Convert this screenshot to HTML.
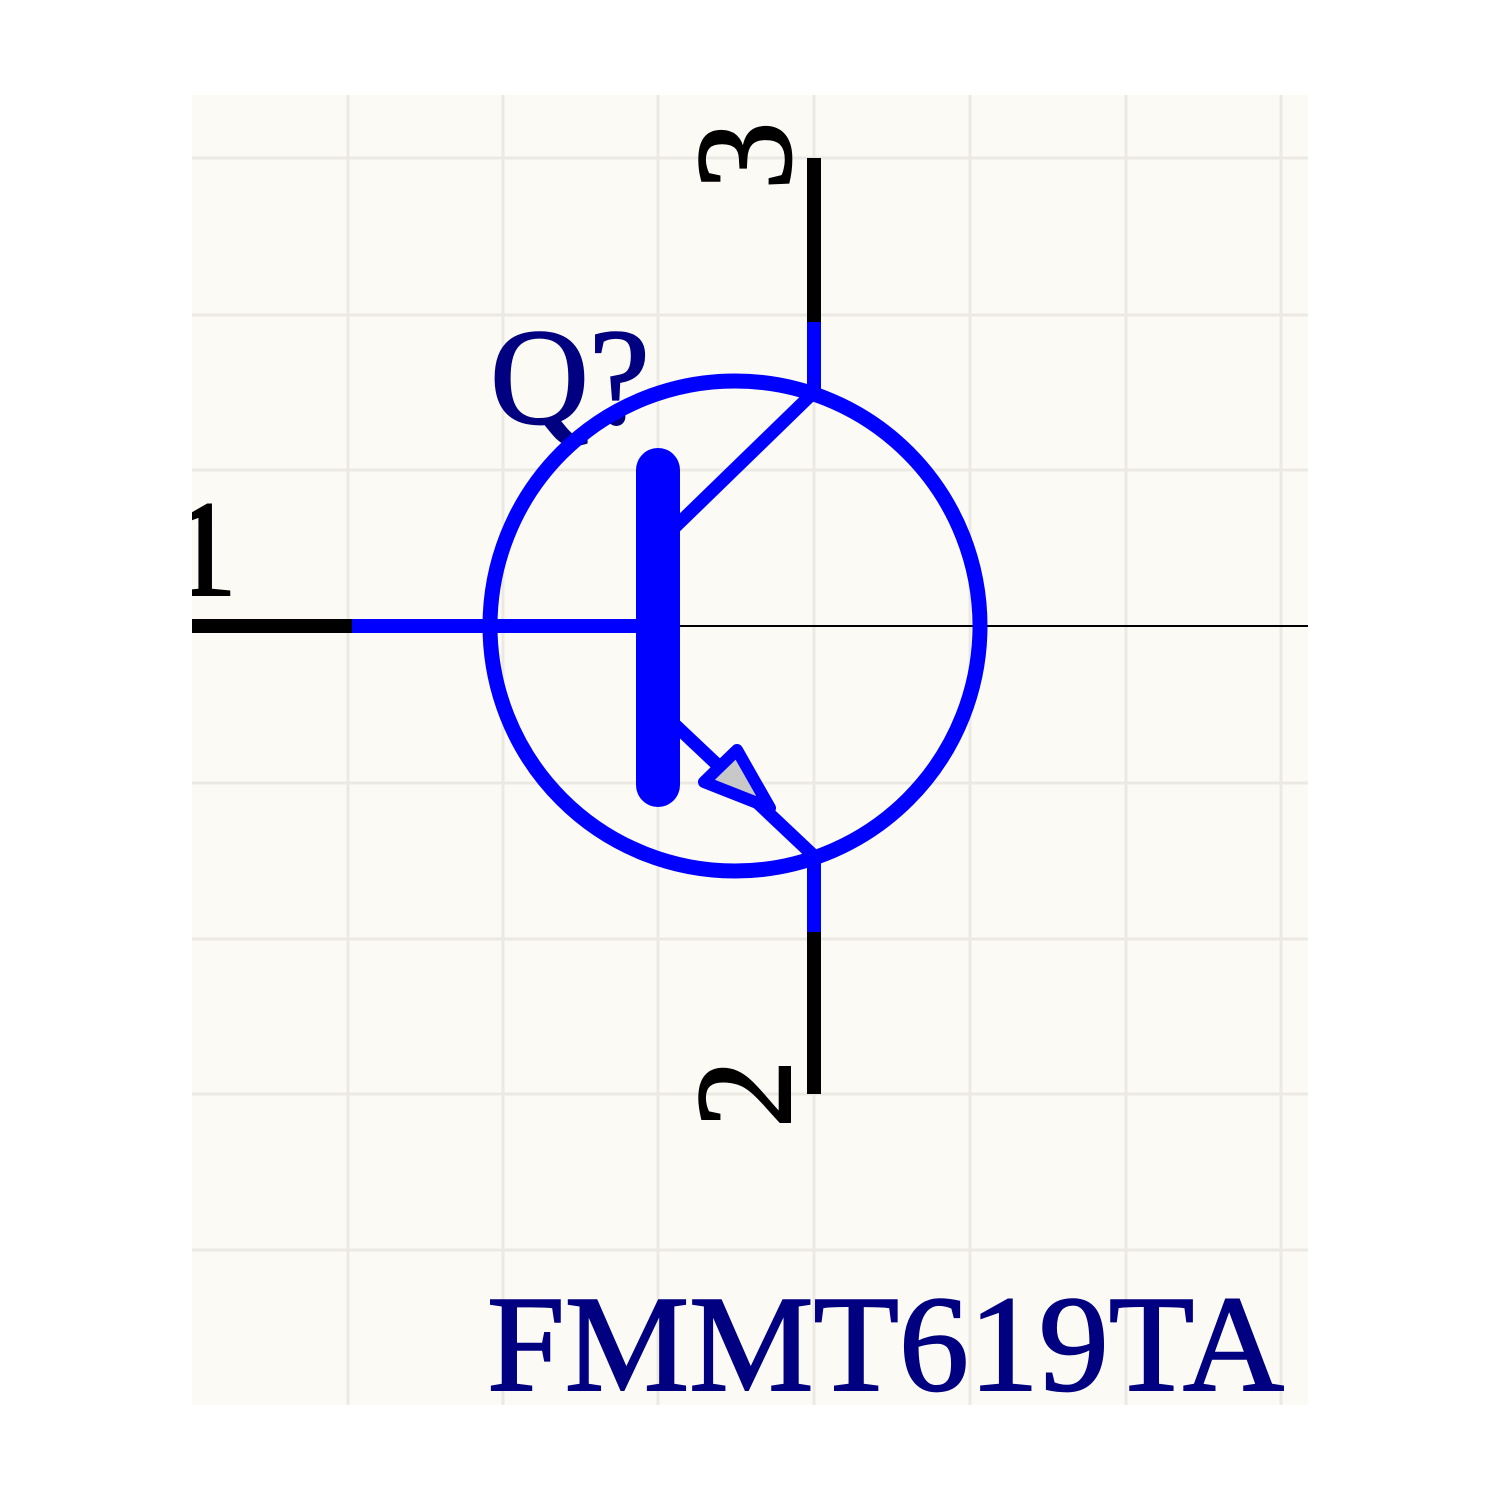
<!DOCTYPE html>
<html><head><style>html,body{margin:0;padding:0;background:#fff;}svg{display:block}</style></head>
<body>
<svg width="1500" height="1500" viewBox="0 0 1500 1500" xmlns="http://www.w3.org/2000/svg">
<defs><clipPath id="c"><rect x="192" y="95" width="1116" height="1310"/></clipPath></defs>
<rect width="1500" height="1500" fill="#fff"/>
<g clip-path="url(#c)">
<rect x="192" y="95" width="1116" height="1310" fill="#fcfaf5"/>
<g stroke="#ece9e3" stroke-width="3">
<line x1="348" y1="95" x2="348" y2="1405"/><line x1="503" y1="95" x2="503" y2="1405"/>
<line x1="658" y1="95" x2="658" y2="1405"/><line x1="814" y1="95" x2="814" y2="1405"/>
<line x1="970" y1="95" x2="970" y2="1405"/><line x1="1126" y1="95" x2="1126" y2="1405"/>
<line x1="1281" y1="95" x2="1281" y2="1405"/>
<line x1="192" y1="158" x2="1308" y2="158"/><line x1="192" y1="315" x2="1308" y2="315"/>
<line x1="192" y1="470" x2="1308" y2="470"/><line x1="192" y1="783" x2="1308" y2="783"/>
<line x1="192" y1="939" x2="1308" y2="939"/><line x1="192" y1="1094" x2="1308" y2="1094"/>
<line x1="192" y1="1250" x2="1308" y2="1250"/>
</g>
<text x="169" y="595" font-family="Liberation Serif, serif" font-size="137" fill="#000" stroke="#000" stroke-width="2">1</text>
</g>
<line x1="680" y1="626" x2="1308" y2="626" stroke="#000" stroke-width="2"/>
<text x="490" y="423" font-family="Liberation Serif, serif" font-size="137" fill="#000080" stroke="#000080" stroke-width="2">Q?</text>
<text x="487" y="1390" font-family="Liberation Serif, serif" font-size="137" fill="#000080" stroke="#000080" stroke-width="2" textLength="797" lengthAdjust="spacingAndGlyphs">FMMT619TA</text>
<text transform="translate(790,190) rotate(-90)" font-family="Liberation Serif, serif" font-size="137" fill="#000" stroke="#000" stroke-width="2">3</text>
<text transform="translate(790,1128) rotate(-90)" font-family="Liberation Serif, serif" font-size="137" fill="#000" stroke="#000" stroke-width="2">2</text>
<line x1="814" y1="158" x2="814" y2="322" stroke="#000" stroke-width="14"/>
<line x1="814" y1="322" x2="814" y2="392" stroke="#0000ff" stroke-width="14"/>
<line x1="814" y1="855" x2="814" y2="932" stroke="#0000ff" stroke-width="14"/>
<line x1="814" y1="932" x2="814" y2="1094" stroke="#000" stroke-width="14"/>
<line x1="192" y1="626" x2="352" y2="626" stroke="#000" stroke-width="14"/>
<line x1="352" y1="626" x2="645" y2="626" stroke="#0000ff" stroke-width="14"/>
<circle cx="735" cy="626" r="245" fill="none" stroke="#0000ff" stroke-width="15"/>
<line x1="658" y1="470" x2="658" y2="785" stroke="#0000ff" stroke-width="44" stroke-linecap="round"/>
<line x1="672" y1="530" x2="814" y2="392" stroke="#0000ff" stroke-width="13"/>
<line x1="672" y1="722" x2="814" y2="856" stroke="#0000ff" stroke-width="13"/>
<polygon points="704,782 737,750 770,808" fill="#c8c8c8" stroke="#0000ff" stroke-width="12" stroke-linejoin="round"/>
</svg>
</body></html>
